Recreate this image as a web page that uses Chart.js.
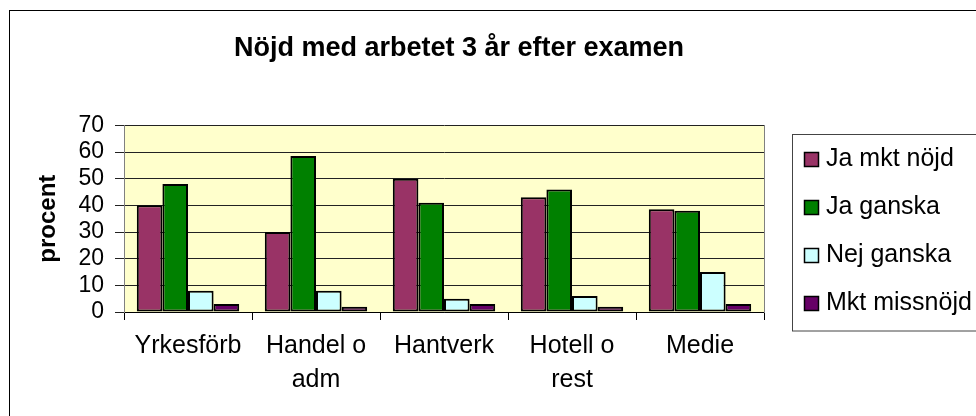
<!DOCTYPE html>
<html>
<head>
<meta charset="utf-8">
<script src="https://cdn.jsdelivr.net/npm/chart.js@4.4.1/dist/chart.umd.min.js"></script>
<style>
  html, body { margin: 0; padding: 0; background: #ffffff; overflow: hidden; width: 976px; height: 416px; }
  canvas { display: block; }
</style>
</head>
<body>
<canvas id="c" width="1000" height="440"></canvas>
<script>
const chartTitle = 'Nöjd med arbetet 3 år efter examen';
const yAxisTitle = 'procent';
const categories = ['Yrkesförb', ['Handel o', 'adm'], 'Hantverk', ['Hotell o', 'rest'], 'Medie'];
const seriesNames = ['Ja mkt nöjd', 'Ja ganska', 'Nej ganska', 'Mkt missnöjd'];
const jaMktNojd = [40, 30, 50, 43, 38.5];
const jaGanska = [48, 58.5, 41, 46, 38];
const nejGanska = [8, 8, 5, 6, 15];
const mktMissnojd = [3, 2, 3, 2, 3];
const yTickMin = 0;
const yTickMax = 70;
const yTickStep = 10;

const colors = ['#993366', '#008000', '#CCFFFF', '#660066'];
const FONT = "'Liberation Sans', Arial, sans-serif";

const seriesValues = [jaMktNojd, jaGanska, nejGanska, mktMissnojd];

const decor = {
  id: 'decor',
  beforeDraw(chart) {
    const ctx = chart.ctx, a = chart.chartArea;
    ctx.save();
    ctx.fillStyle = '#FFFFCC';
    ctx.fillRect(a.left, a.top, a.right - a.left, a.bottom - a.top);
    ctx.restore();
  },
  afterDraw(chart) {
    const ctx = chart.ctx;
    ctx.save();
    // outer frame
    ctx.strokeStyle = '#000';
    ctx.lineWidth = 1;
    ctx.strokeRect(9.5, 10.5, 2000, 2000);
    // legend box
    ctx.strokeStyle = '#444';
    ctx.strokeRect(792.5, 134.5, 400, 196.5);
    ctx.font = '25px ' + FONT;
    ctx.textBaseline = 'middle';
    ctx.textAlign = 'left';
    chart.data.datasets.forEach((ds, i) => {
      const cy = 159.5 + 48 * i;
      ctx.fillStyle = ds.backgroundColor;
      ctx.fillRect(804.5, cy - 7, 14, 14);
      ctx.strokeStyle = '#000';
      ctx.lineWidth = 1.5;
      ctx.strokeRect(804.5, cy - 7, 14, 14);
      ctx.fillStyle = '#000';
      ctx.fillText(ds.label, 826, cy);
    });
    ctx.restore();
  }
};

new Chart(document.getElementById('c'), {
  type: 'bar',
  data: {
    labels: categories,
    datasets: seriesNames.map((name, i) => ({
      label: name,
      data: seriesValues[i],
      backgroundColor: colors[i],
      borderColor: '#000',
      borderWidth: 2,
      borderSkipped: false,
      categoryPercentage: 0.8,
      barPercentage: 1.0,
      yAxisID: 'y'
    }))
  },
  options: {
    responsive: false,
    animation: false,
    devicePixelRatio: 1,
    layout: { padding: { left: 10, right: 92, top: 0, bottom: 0 } },
    plugins: {
      legend: { display: false },
      tooltip: { enabled: false },
      title: {
        display: true,
        text: chartTitle,
        color: '#000',
        font: { family: FONT, size: 27, weight: 'bold', lineHeight: 1.2 },
        padding: { top: 32, bottom: 61 }
      }
    },
    scales: {
      x: {
        grid: { display: true, drawOnChartArea: false, drawTicks: true, tickLength: 8, color: '#000', offset: true },
        border: { display: true, color: '#000' },
        ticks: { color: '#000', padding: 9, maxRotation: 0, autoSkip: false, font: { family: FONT, size: 25, lineHeight: 1.36 } },
        afterFit(scale) { scale.height = 128; }
      },
      y: {
        position: 'left',
        min: yTickMin, max: yTickMax,
        grid: { color: '#222', tickLength: 9, drawTicks: true },
        border: { display: true, color: '#808080' },
        ticks: { color: '#000', padding: 11, stepSize: yTickStep, autoSkip: false, font: { family: FONT, size: 23 } },
        title: {
          display: true, text: yAxisTitle, color: '#000',
          font: { family: FONT, size: 24, weight: 'bold', lineHeight: 1.2 },
          padding: { top: 24, bottom: 0 }
        },
        afterFit(scale) { scale.width = 114; }
      },
      y2: {
        position: 'right',
        min: yTickMin, max: yTickMax,
        grid: { drawOnChartArea: false, drawTicks: false },
        border: { display: true, color: '#808080' },
        ticks: { display: false },
        afterFit(scale) { scale.width = 144; }
      }
    }
  },
  plugins: [decor]
});
</script>
</body>
</html>
